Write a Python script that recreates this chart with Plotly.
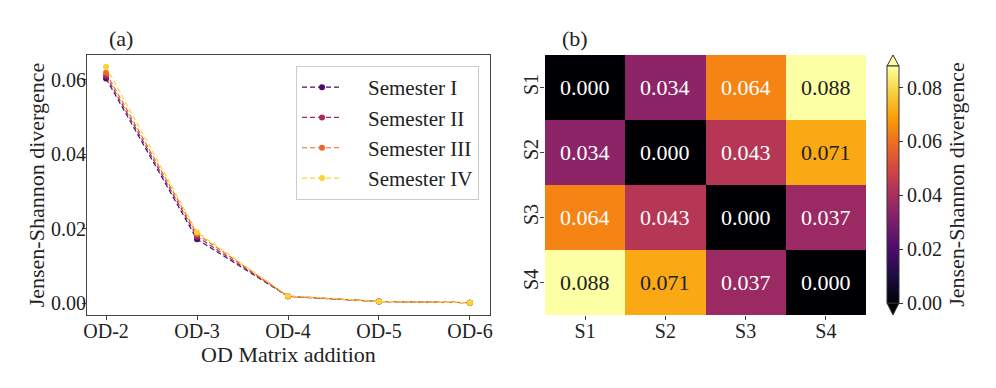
import plotly.graph_objects as go

# ---------------- data ----------------
od_labels = ["OD-2", "OD-3", "OD-4", "OD-5", "OD-6"]
semester_names = ["Semester I", "Semester II", "Semester III", "Semester IV"]
sem1 = [0.0603, 0.0171, 0.0018, 0.0004, 0.0001]
sem2 = [0.0610, 0.0178, 0.0018, 0.0004, 0.0001]
sem3 = [0.0618, 0.0185, 0.0018, 0.0004, 0.0001]
sem4 = [0.0634, 0.0190, 0.0019, 0.0004, 0.0001]
series = [sem1, sem2, sem3, sem4]
series_colors = ["#4b0c6b", "#a52c60", "#ed6925", "#fcd43a"]

heat_labels = ["S1", "S2", "S3", "S4"]
jsd_matrix = [
    [0.000, 0.034, 0.064, 0.088],
    [0.034, 0.000, 0.043, 0.071],
    [0.064, 0.043, 0.000, 0.037],
    [0.088, 0.071, 0.037, 0.000],
]
cbar_ticks = [0.00, 0.02, 0.04, 0.06, 0.08]
y_ticks_a = [0.00, 0.02, 0.04, 0.06]

FONT = "Liberation Serif"
OFF = 8  # page body margin
W, H = 996 - OFF, 388 - OFF

def px(x):
    return (x - OFF) / W

def py(y):
    return 1 - (y - OFF) / H

fig = go.Figure()

for name, vals, col in zip(semester_names, series, series_colors):
    fig.add_trace(go.Scatter(
        x=od_labels, y=vals, name="\u2003" + name, mode="lines+markers",
        line=dict(color=col, width=1.2, dash="5px,3px"),
        marker=dict(color=col, size=6),
        xaxis="x", yaxis="y",
    ))

vmax = max(max(r) for r in jsd_matrix)
fig.add_trace(go.Heatmap(
    z=jsd_matrix, x=heat_labels, y=heat_labels,
    colorscale="Inferno", zmin=0, zmax=vmax,
    xaxis="x2", yaxis="y2", showscale=True,
    colorbar=dict(
        thickness=12, thicknessmode="pixels",
        len=py(66) - py(303), lenmode="fraction",
        x=px(887), xanchor="left", xpad=0,
        y=py(303), yanchor="bottom", ypad=0,
        outlinewidth=1, outlinecolor="#333",
        tickvals=cbar_ticks, ticktext=[f"{v:.2f}" for v in cbar_ticks],
        ticks="outside", ticklen=4, tickcolor="#333",
        tickfont=dict(family=FONT, size=20, color="#222"),
        title=dict(text="Jensen-Shannon divergence", side="right",
                   font=dict(family=FONT, size=22, color="#222")),
    ),
    hoverinfo="z",
))

annotations = []
for i, row in enumerate(jsd_matrix):
    for j, v in enumerate(row):
        annotations.append(dict(
            x=heat_labels[j], y=heat_labels[i], xref="x2", yref="y2",
            text=f"{v:.3f}", showarrow=False,
            font=dict(family=FONT, size=22,
                      color="white" if v < 0.068 else "#222"),
        ))

for lab, xx in (("(a)", 121), ("(b)", 575)):
    annotations.append(dict(text=lab, x=px(xx), y=py(38), xref="paper", yref="paper",
                            xanchor="center", yanchor="middle",
                            showarrow=False, font=dict(family=FONT, size=22, color="#222")))

shapes = [
    # colorbar extension triangles
    dict(type="path", xref="paper", yref="paper",
         path=f"M {px(887)} {py(66)} L {px(899)} {py(66)} L {px(893)} {py(55)} Z",
         fillcolor="#fcffa4", line=dict(color="#333", width=1)),
    dict(type="path", xref="paper", yref="paper",
         path=f"M {px(887)} {py(303)} L {px(899)} {py(303)} L {px(893)} {py(315)} Z",
         fillcolor="#000004", line=dict(color="#333", width=1)),
]

tickfont = dict(family=FONT, size=20, color="#222")
titlefont = dict(family=FONT, size=22, color="#222")

fig.update_layout(
    width=W, height=H,
    margin=dict(l=0, r=0, t=0, b=0, autoexpand=False),
    paper_bgcolor="white", plot_bgcolor="white",
    font=dict(family=FONT, color="#222"),
    xaxis=dict(domain=[px(87), px(490)], range=[-0.209, 4.22],
               showline=True, mirror=True, linecolor="#444", linewidth=1,
               ticks="outside", ticklen=4, tickcolor="#444", showgrid=False,
               zeroline=False, tickfont=tickfont, automargin=False,
               ticklabelstandoff=-6,
               title=dict(text="OD Matrix addition", font=titlefont, standoff=0),
               anchor="y"),
    yaxis=dict(domain=[py(315), py(55)], range=[-0.00322, 0.06658],
               showline=True, mirror=True, linecolor="#444", linewidth=1,
               ticks="outside", ticklen=4, tickcolor="#444", showgrid=False,
               zeroline=False, tickfont=tickfont, automargin=False,
               ticklabelstandoff=-8,
               tickvals=y_ticks_a, ticktext=[f"{v:.2f}" for v in y_ticks_a],
               title=dict(text="Jensen-Shannon divergence", font=titlefont, standoff=0),
               anchor="x"),
    xaxis2=dict(domain=[px(545), px(866)], anchor="y2", showline=False,
                ticks="outside", ticklen=4, tickcolor="#444", showgrid=False,
                ticklabelstandoff=-6,
                zeroline=False, tickfont=tickfont, automargin=False),
    yaxis2=dict(domain=[py(315), py(55)], anchor="x2", showline=False,
                autorange="reversed", tickangle=-90, automargin=False,
                ticklabelstandoff=-6,
                ticks="outside", ticklen=4, tickcolor="#444", showgrid=False,
                zeroline=False, tickfont=tickfont),
    showlegend=True,
    legend=dict(x=px(296), y=py(66), xanchor="left", yanchor="top",
                bordercolor="#ccc", borderwidth=1, bgcolor="rgba(255,255,255,0.8)",
                font=dict(family=FONT, size=21, color="#222"),
                itemwidth=40, tracegroupgap=0),
    annotations=annotations,
    shapes=shapes,
)

fig.write_html("out.html")
